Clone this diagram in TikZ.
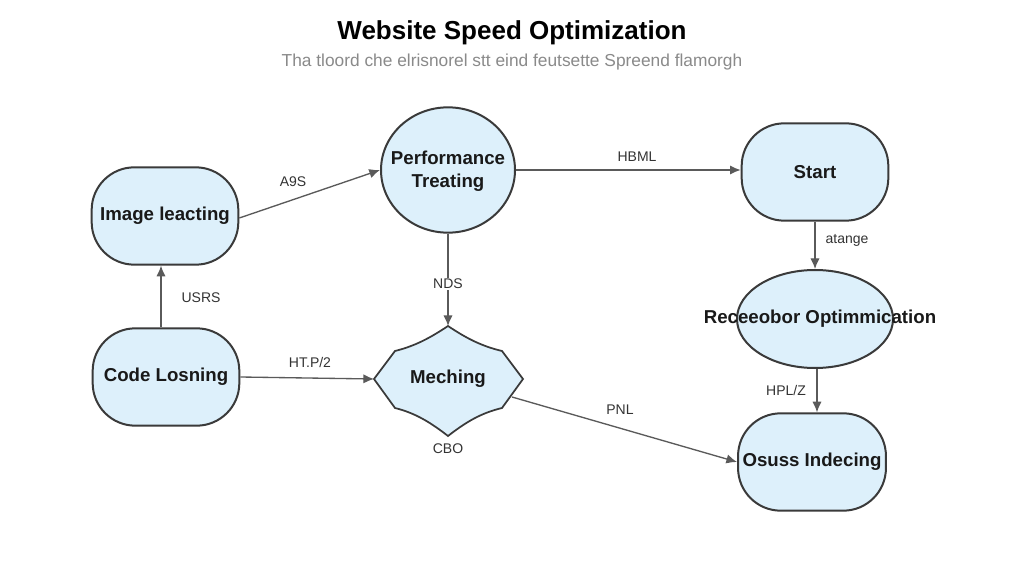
\documentclass[tikz,border=0pt]{standalone}
\usepackage{fontspec}
\setmainfont{Liberation Sans}
\usetikzlibrary{shapes.geometric,arrows.meta}
\definecolor{nodefill}{HTML}{DDF0FB}
\definecolor{nodeline}{HTML}{3A3A3A}
\definecolor{edgecol}{HTML}{5A5A5A}
\definecolor{labcol}{HTML}{333333}
\definecolor{subcol}{HTML}{8A8A8A}
\begin{document}
\begin{tikzpicture}[x=0.75pt,y=-0.75pt,
  ntext/.style={font=\bfseries\fontsize{14}{17}\selectfont,text=black!90,align=center},
  rbox/.style={draw=nodeline,fill=nodefill,line width=1.5pt,rounded corners=32pt,
    minimum width=110pt,minimum height=73pt,ntext},
  ebox/.style={draw=nodeline,fill=nodefill,line width=1.5pt,ellipse,inner sep=0pt},
  conn/.style={draw=edgecol,line width=1pt,-{Latex[length=8pt,width=7pt]}},
  elab/.style={font=\fontsize{10.5}{12}\selectfont,text=labcol}]
\useasboundingbox (0,0) rectangle (1024,577);
\fill[white] (0,0) rectangle (1024,577);

\node[font=\bfseries\fontsize{19.5}{22}\selectfont] (title) at (512,33) {Website Speed Optimization};
\node[font=\fontsize{13}{15}\selectfont,text=subcol] (sub) at (512,62) {Tha tloord che elrisnorel stt eind feutsette Spreend flamorgh};

\node[rbox] (img) at (165,216) {Image leacting};
\node[rbox] (code) at (166,377) {Code Losning};
\node[ebox,minimum width=100.5pt,minimum height=94pt] (perf) at (448,170) {};
\node[ntext] (perft) at (448,171) {Performance\\Treating};
\node[rbox] (start) at (815,172) {Start};
\node[ebox,minimum width=117pt,minimum height=73.5pt] (reso) at (815,319) {};
\node[ntext] (resot) at (820,319) {Receeobor Optimmication};
\node[rbox] (osus) at (812,462) {Osuss Indecing};

% Meching shape
\coordinate (mtop) at (448,326);
\coordinate (mleft) at (374,379);
\coordinate (mright) at (523,379);
\coordinate (mbot) at (448,436);
\coordinate (mr) at (512,397);
\draw[draw=nodeline,fill=nodefill,line width=1.3pt]
  (mtop) .. controls (430,338) and (415,346) .. (395,351)
  -- (mleft) -- (395,408)
  .. controls (415,413) and (430,422) .. (mbot)
  .. controls (466,422) and (481,413) .. (502,408)
  -- (mright) -- (502,351)
  .. controls (481,346) and (466,338) .. (mtop) -- cycle;
\node[ntext] (mech) at (448,379) {Meching};
\node[elab] (cbo) at (448,449) {CBO};

% connectors
\draw[conn] (img.east) ++(0,2) coordinate (ie) (ie) -- (perf.west);
\node[elab] at (293,182) {A9S};
\draw[conn] (perf.east) -- (perf.east -| start.west);
\node[elab] at (637,157) {HBML};
\draw[conn] (start.south) -- (reso.north);
\node[elab] at (847,240) {atange};
\draw[conn] (code.north -| img.south) ++(-4,0) coordinate (cn) (cn) -- (cn |- img.south);
\node[elab] at (201,298) {USRS};
\draw[conn] (code.east) -- (mleft);
\node[elab] at (310,362) {HT.P/2};
\draw[conn] (perf.south) -- (mtop);
\node[elab,fill=white,inner sep=1pt] at (448,284) {NDS};
\draw[conn] (mr) -- (osus.west);
\node[elab] at (620,410) {PNL};
\draw[conn] (reso.south) ++(2,0) coordinate (rs) (rs) -- (rs |- osus.north);
\node[elab] at (786,390) {HPL/Z};
\end{tikzpicture}
\end{document}
